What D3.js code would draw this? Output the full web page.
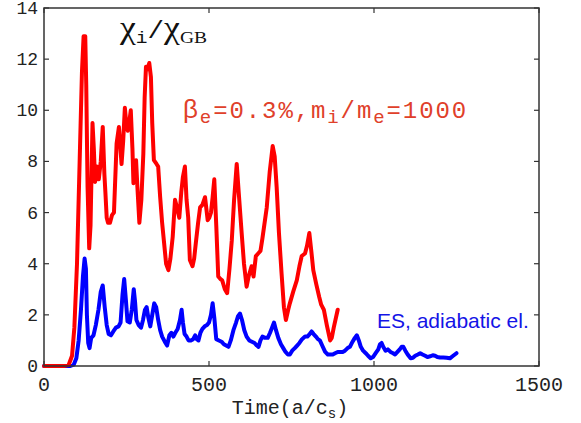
<!DOCTYPE html>
<html>
<head>
<meta charset="utf-8">
<script src="https://cdn.jsdelivr.net/npm/d3@7"></script>
<style>
  body { margin: 0; background: #fff; }
  svg { display: block; }
</style>
</head>
<body>
<svg id="mainsvg" width="581" height="423"></svg>
<script>
// time (a/c_s) and chi_i/chi_GB
let redT = [0, 60, 75, 85, 92, 100, 108, 115, 120, 125, 128, 132, 137, 141, 147, 151, 155, 160, 166, 172, 178, 183, 186, 190, 194, 200, 206, 212, 220, 227, 235, 240, 245, 250, 254, 259, 263, 268, 271, 275, 279, 283, 289, 295, 301, 305, 309, 313, 319, 324, 328, 333, 341, 346, 352, 358, 364, 370, 377, 383, 390, 397, 403, 410, 416, 421, 427, 432, 437, 442, 450, 455, 460, 467, 473, 480, 488, 496, 501, 506, 511, 516, 522, 528, 535, 540, 548, 555, 562, 569, 576, 584, 590, 599, 606, 614, 620, 629, 635, 642, 649, 656, 662, 675, 684, 693, 699, 705, 712, 720, 727, 733, 740, 745, 755, 766, 774, 781, 791, 797, 804, 810, 816, 825, 834, 840, 848, 857, 867, 872, 878, 890];
let redV = [0, 0, 0.05, 0.4, 1.5, 4, 8, 11.5, 12.9, 12.9, 11, 7, 4.6, 5.5, 9.5, 8.5, 7.2, 7.8, 7.3, 8.0, 9.35, 7.5, 6.8, 5.8, 5.6, 5.6, 5.9, 6.0, 8.7, 9.35, 7.9, 8.8, 10.1, 9.4, 9.2, 9.6, 10.0, 8.5, 7.15, 7.6, 8.05, 7.0, 5.6, 6.5, 8.3, 10.5, 11.7, 11.6, 11.85, 11.3, 9.5, 8.05, 7.9, 7.8, 6.6, 5.6, 4.8, 4.0, 3.75, 4.2, 5.05, 6.5, 6.2, 5.8, 6.8, 7.4, 7.8, 6.5, 5.8, 4.15, 3.9, 4.2, 4.8, 5.6, 6.2, 6.3, 6.6, 5.7, 5.8, 6.0, 6.6, 7.3, 5.5, 3.5, 3.4, 3.35, 3.0, 2.85, 3.8, 4.9, 6.5, 7.9, 6.8, 5.2, 4.0, 3.1, 3.5, 3.9, 3.5, 4.3, 4.4, 4.5, 5.0, 6.2, 7.6, 8.6, 8.2, 7.0, 5.2, 3.6, 2.3, 1.8, 2.2, 2.45, 2.9, 3.35, 3.9, 4.3, 4.4, 4.7, 5.2, 4.5, 3.75, 3.2, 2.7, 2.4, 2.2, 1.6, 1.0, 1.1, 1.5, 2.2];

let blueT = [0, 80, 90, 98, 105, 112, 118, 123, 127, 130, 134, 138, 143, 150, 157, 165, 172, 178, 184, 190, 196, 203, 210, 218, 226, 232, 238, 243, 248, 253, 260, 266, 272, 276, 280, 287, 294, 300, 306, 311, 316, 322, 328, 334, 340, 346, 352, 358, 366, 373, 380, 386, 392, 398, 405, 412, 417, 421, 426, 432, 438, 445, 452, 458, 463, 468, 474, 480, 487, 494, 500, 506, 511, 516, 522, 530, 538, 545, 552, 559, 566, 574, 582, 588, 594, 600, 607, 614, 622, 630, 638, 645, 650, 656, 662, 670, 678, 685, 691, 697, 703, 710, 718, 725, 732, 739, 745, 752, 760, 767, 774, 782, 791, 798, 805, 811, 817, 824, 830, 836, 843, 852, 860, 867, 875, 882, 890, 897, 905, 912, 920, 927, 935, 942, 948, 954, 960, 967, 975, 982, 990, 997, 1005, 1013, 1018, 1023, 1028, 1035, 1042, 1050, 1058, 1064, 1071, 1078, 1084, 1089, 1095, 1102, 1111, 1118, 1125, 1133, 1140, 1147, 1155, 1162, 1170, 1178, 1185, 1192, 1200, 1210, 1220, 1230, 1240, 1250];
let blueV = [0, 0, 0.05, 0.3, 1.0, 2.2, 3.5, 4.2, 3.8, 2.0, 0.9, 0.7, 1.1, 1.2, 1.6, 2.2, 2.9, 3.15, 2.3, 1.6, 1.25, 1.2, 1.35, 1.5, 1.55, 1.7, 2.8, 3.4, 2.6, 1.75, 1.7, 2.2, 3.0, 2.5, 1.8, 1.6, 1.5, 1.8, 2.2, 2.3, 1.9, 1.55, 2.0, 2.45, 2.3, 1.8, 1.4, 1.15, 0.95, 0.8, 1.2, 1.3, 1.15, 1.3, 1.45, 1.8, 2.2, 1.7, 1.25, 1.15, 1.0, 1.0, 1.05, 1.2, 1.05, 1.0, 1.3, 1.45, 1.55, 1.6, 1.7, 2.0, 2.45, 1.9, 1.05, 1.0, 0.95, 0.85, 0.8, 0.75, 1.0, 1.4, 1.7, 1.95, 2.05, 1.8, 1.4, 1.15, 1.0, 0.95, 0.9, 0.8, 0.75, 1.0, 1.15, 1.1, 1.1, 1.3, 1.5, 1.7, 1.4, 1.1, 0.85, 0.7, 0.55, 0.45, 0.45, 0.6, 0.7, 0.8, 0.9, 1.05, 1.15, 1.15, 1.25, 1.35, 1.25, 1.15, 1.05, 1.0, 0.8, 0.55, 0.45, 0.45, 0.45, 0.5, 0.55, 0.55, 0.55, 0.6, 0.7, 0.75, 0.95, 1.1, 1.2, 1.0, 0.75, 0.6, 0.5, 0.4, 0.3, 0.35, 0.5, 0.65, 0.85, 0.9, 0.75, 0.6, 0.65, 0.55, 0.5, 0.45, 0.55, 0.65, 0.75, 0.75, 0.6, 0.45, 0.3, 0.32, 0.4, 0.45, 0.5, 0.45, 0.4, 0.35, 0.38, 0.42, 0.4, 0.35, 0.33, 0.33, 0.32, 0.3, 0.4, 0.5];

let xTicks = [0, 500, 1000, 1500];
let yTicks = [0, 2, 4, 6, 8, 10, 12, 14];

let svg = d3.select("#mainsvg");
let plotL = 44, plotR = 539, plotT = 8, plotB = 366;
let mono = "'Liberation Mono', 'Courier New', monospace";
let serif = "'Liberation Serif', 'Times New Roman', serif";
let sans = "'Liberation Sans', Arial, sans-serif";

let x = d3.scaleLinear().domain([0, 1500]).range([plotL, plotR]);
let y = d3.scaleLinear().domain([0, 14]).range([plotB, plotT]);

let line = d3.line()
    .x(d => x(d[0]))
    .y(d => y(d[1]));

let red = redT.map((t, i) => [t, redV[i]]);
let blue = blueT.map((t, i) => [t, blueV[i]]);

// ticks inside the box, on all four sides
let frame = svg.append("g");
let tickLen = 5;
for (let t of xTicks) {
    frame.append("line").attr("x1", x(t)).attr("x2", x(t)).attr("y1", plotB).attr("y2", plotB - tickLen);
    frame.append("line").attr("x1", x(t)).attr("x2", x(t)).attr("y1", plotT).attr("y2", plotT + tickLen);
}
for (let v of yTicks) {
    frame.append("line").attr("x1", plotL).attr("x2", plotL + tickLen).attr("y1", y(v)).attr("y2", y(v));
    frame.append("line").attr("x1", plotR).attr("x2", plotR - tickLen).attr("y1", y(v)).attr("y2", y(v));
}
frame.selectAll("line").attr("stroke", "#333").attr("stroke-width", 1.2);

svg.append("path").datum(blue)
    .attr("d", line)
    .attr("fill", "none").attr("stroke", "#0000ff")
    .attr("stroke-width", 4).attr("stroke-linejoin", "round").attr("stroke-linecap", "round");

svg.append("path").datum(red)
    .attr("d", line)
    .attr("fill", "none").attr("stroke", "#ff0000")
    .attr("stroke-width", 4).attr("stroke-linejoin", "round").attr("stroke-linecap", "round");

svg.append("rect")
    .attr("x", plotL).attr("y", plotT)
    .attr("width", plotR - plotL).attr("height", plotB - plotT)
    .attr("fill", "none").attr("stroke", "#333").attr("stroke-width", 1.5);

// tick labels
svg.append("g").selectAll("text").data(xTicks).enter().append("text")
    .attr("x", d => x(d)).attr("y", 391)
    .attr("text-anchor", "middle")
    .attr("font-family", mono).attr("font-size", 20).attr("fill", "#222")
    .text(d => d);

svg.append("g").selectAll("text").data(yTicks).enter().append("text")
    .attr("x", 38).attr("y", d => y(d) + 6)
    .attr("text-anchor", "end")
    .attr("font-family", mono).attr("font-size", 18).attr("fill", "#222")
    .text(d => d);

// x axis title
let xt = svg.append("text")
    .attr("x", 290).attr("y", 414)
    .attr("text-anchor", "middle")
    .attr("font-family", mono).attr("font-size", 20).attr("fill", "#222");
xt.append("tspan").text("Time(a/c");
xt.append("tspan").attr("font-size", 14).attr("dy", 4).text("s");
xt.append("tspan").attr("dy", -4).text(")");

// chi_i / chi_GB, stretched sideways like the original
let ttl = svg.append("text")
    .attr("transform", "translate(120,38) scale(1.15,1)")
    .attr("font-family", serif).attr("font-size", 31).attr("fill", "#111");
ttl.append("tspan").text("χ");
ttl.append("tspan").attr("font-family", mono).attr("font-size", 17).attr("dy", 5).text("i");
ttl.append("tspan").attr("font-family", mono).attr("font-size", 24).attr("dy", -5).text("/");
ttl.append("tspan").text("χ");
ttl.append("tspan").attr("font-size", 17).attr("dy", 5).text("GB");

// red label
let rl = svg.append("text")
    .attr("x", 183).attr("y", 118)
    .attr("font-family", mono).attr("font-size", 24).attr("letter-spacing", 1.9).attr("fill", "#e0402a");
rl.append("tspan").attr("font-family", sans).attr("font-size", 26).text("β");
rl.append("tspan").attr("font-size", 19).attr("dy", 5).text("e");
rl.append("tspan").attr("dy", -5).text("=0.3%,m");
rl.append("tspan").attr("font-size", 19).attr("dy", 5).text("i");
rl.append("tspan").attr("dy", -5).text("/m");
rl.append("tspan").attr("font-size", 19).attr("dy", 5).text("e");
rl.append("tspan").attr("dy", -5).text("=1000");

// blue label
svg.append("text")
    .attr("x", 377).attr("y", 328)
    .attr("font-family", sans).attr("font-size", 21).attr("fill", "#1414e6")
    .text("ES, adiabatic el.");
</script>
</body>
</html>
